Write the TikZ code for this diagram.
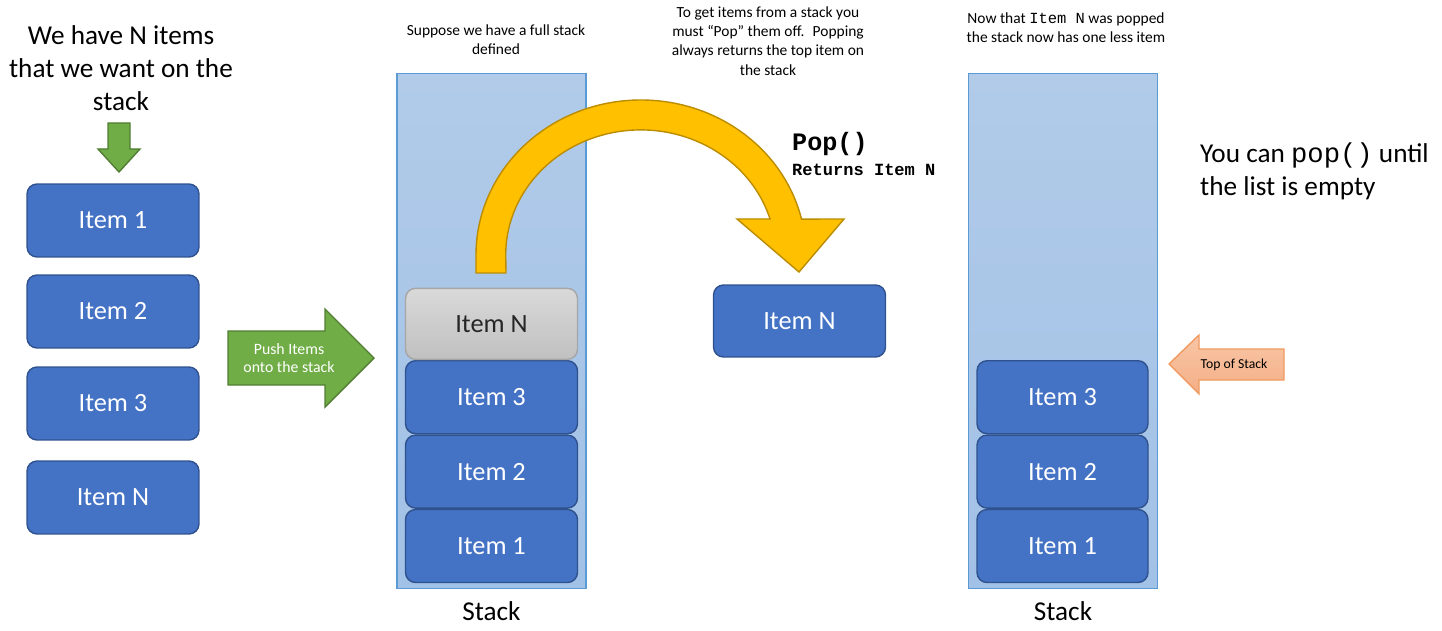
\documentclass[tikz,border=0pt]{standalone}
\usepackage{fontspec}
\setmainfont{Carlito}
\setmonofont{Liberation Mono}
\usetikzlibrary{positioning}
\definecolor{itemBlue}{HTML}{4472C4}
\definecolor{itemEdge}{HTML}{2F528F}
\definecolor{stackTop}{HTML}{B1CBE9}
\definecolor{stackBot}{HTML}{A2C1E6}
\definecolor{stackEdge}{HTML}{5B9BD5}
\definecolor{greyTop}{HTML}{D9D9D9}
\definecolor{greyBot}{HTML}{C0C0C0}
\definecolor{greyEdge}{HTML}{A6A6A6}
\definecolor{pushGreen}{HTML}{70AD47}
\definecolor{pushEdge}{HTML}{507E32}
\definecolor{popYellow}{HTML}{FFC000}
\definecolor{popEdge}{HTML}{BC8C00}
\definecolor{topTop}{HTML}{F8C6A6}
\definecolor{topBot}{HTML}{F4AF86}
\definecolor{topEdge}{HTML}{F19A60}

\begin{document}
\begin{tikzpicture}[x=0.02cm, y=-0.02cm,
    item/.style={draw=itemEdge, line width=0.8pt, fill=itemBlue, rounded corners=0.2cm,
      text=white, minimum width=3.44cm, minimum height=1.46cm, font=\fontsize{15}{18}\selectfont},
    topitem/.style={item, draw=greyEdge, top color=greyTop, bottom color=greyBot, text=black!85},
    stackbox/.style={draw=stackEdge, line width=0.6pt, top color=stackTop, bottom color=stackBot,
      minimum width=3.78cm, minimum height=10.32cm},
    note/.style={align=center, font=\fontsize{8.8}{11}\selectfont},
    big/.style={align=center, font=\fontsize{15.5}{18.7}\selectfont},
    blockarrow/.style={line width=0.8pt, line join=miter}]
  \useasboundingbox (0,0) rectangle (1442,631);

  % items waiting to be pushed
  \node[big] (want) at (121,68) {We have N items\\that we want on the\\stack};
  \draw[blockarrow, draw=pushEdge, fill=pushGreen]
    (108,123) -- (130,123) -- (130,149) -- (140,149) -- (119,172) -- (98,149) -- (108,149) -- cycle;
  \node[item] (w1) at (113,220.5) {Item 1};
  \node[item] (w2) at (113,311.5) {Item 2};
  \node[item] (w3) at (113,403.5) {Item 3};
  \node[item] (wn) at (113,497.5) {Item N};

  % push arrow
  \draw[blockarrow, draw=pushEdge, fill=pushGreen]
    (228,331) -- (325,331) -- (325,309) -- (374,358) -- (325,407) -- (325,385) -- (228,385) -- cycle;
  \node[align=center, text=white, font=\fontsize{9}{10.4}\selectfont] (push) at (289,358) {Push Items\\onto the stack};

  % full stack
  \node[note] (full) at (496,40) {Suppose we have a full stack\\defined};
  \node[stackbox] (s1) at (491.5,331) {};
  \node[big] (s1lab) at (491.5,611) {Stack};
  \node[item] (a1) at (491.5,546) {Item 1};
  \node[item, above=0pt of a1] (a2) {Item 2};
  \node[item, above=0pt of a2] (a3) {Item 3};
  \node[topitem, minimum height=1.42cm, above=0pt of a3] (an) {Item N};

  % pop arrow
  \draw[blockarrow, draw=popEdge, fill=popYellow]
    (476,273) -- (476,255) arc[start angle=180, end angle=346.6, x radius=165, y radius=155]
    -- (844,219) -- (799,272) -- (737,219) -- (770,219)
    arc[start angle=343.3, end angle=180, x radius=135, y radius=125] -- (506,273) -- cycle;
  \node[note] (howto) at (768,41) {To get items from a stack you\\must “Pop” them off.~ Popping\\always returns the top item on\\the stack};
  \node[anchor=west, font=\ttfamily\bfseries\fontsize{14.3}{16}\selectfont] (pop) at (786,144) {Pop()};
  \node[anchor=west, font=\ttfamily\bfseries\fontsize{9.7}{11}\selectfont] (ret) at (786,170) {Returns Item N};
  \node[item, minimum height=1.44cm] (out) at (799.5,321) {Item N};

  % stack after the pop
  \node[note] (after) at (1066,28) {Now that \texttt{Item N} was popped\\the stack now has one less item};
  \node[stackbox] (s2) at (1063,331) {};
  \node[big] (s2lab) at (1063,611) {Stack};
  \node[item, minimum width=3.42cm] (b1) at (1062.5,546) {Item 1};
  \node[item, minimum width=3.42cm, above=0pt of b1] (b2) {Item 2};
  \node[item, minimum width=3.42cm, above=0pt of b2] (b3) {Item 3};

  % top of stack marker
  \draw[blockarrow, draw=topEdge, top color=topTop, bottom color=topBot]
    (1169,364) -- (1199,335) -- (1199,349) -- (1284,349) -- (1284,380) -- (1199,380) -- (1199,394) -- cycle;
  \node[font=\fontsize{7.8}{9}\selectfont] (tos) at (1234,364.5) {Top of Stack};

  \node[big, anchor=west, align=left] (empty) at (1194,171) {You can \texttt{pop()} until\\the list is empty};
\end{tikzpicture}
\end{document}
